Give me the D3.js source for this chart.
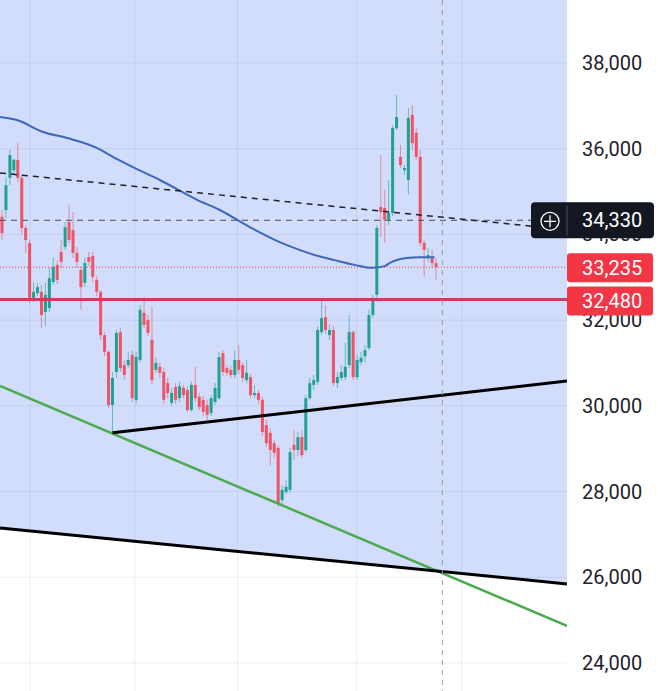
<!DOCTYPE html>
<html>
<head>
<meta charset="utf-8">
<script src="https://cdn.jsdelivr.net/npm/d3@7"></script>
<style>
	html, body { margin: 0; padding: 0; background: #ffffff; }
	svg { display: block; font-family: Roboto, "Noto Sans", sans-serif; }
</style>
</head>
<body>
<div id="chart"></div>
<script>
// candles (one per bar, left to right)
let opens = [
	34410, 34570, 35320, 35500, 35740, 35320, 34150, 33800, 32520, 32630,
	32660, 32190, 32280, 32890, 33290, 33590, 33710, 34290, 34100, 33570,
	33170, 32870, 33470, 33500, 32940, 32660, 31650, 31260, 30020, 30790,
	31720, 30950, 30950, 31190, 30140, 31070, 32170, 32000, 31540, 30840,
	30910, 30790, 30530, 30070, 30440, 30180, 30420, 30370, 29900, 30490,
	30210, 30140, 30020, 29830, 30090, 30180, 31230, 30880, 30840, 30720,
	31070, 30950, 30600, 30670, 30250, 30300, 30140, 29550, 29370, 29130,
	29020, 27800, 27990, 28040, 29090, 28970, 29270, 28970, 30180, 30490,
	30560, 31720, 32070, 31650, 31770, 30530, 30650, 30670, 30950, 31720,
	30670, 31020, 31160, 31350, 32120, 32590, 34640, 34620, 34340, 34500,
	36480, 35810, 35500, 35270, 36790, 36370, 35810, 33800, 33450, 33470,
	33330
];
let highs = [
	34570, 35320, 35970, 35780, 36130, 35390, 34220, 33870, 32890, 32870,
	32820, 32870, 33220, 33470, 33400, 33870, 34290, 34690, 34520, 33710,
	33260, 33450, 33590, 33590, 33030, 32700, 31720, 31300, 30790, 31770,
	31820, 31070, 31260, 31300, 31260, 32350, 32540, 32120, 32310, 31120,
	31020, 30880, 30650, 30420, 30530, 30560, 30490, 30460, 30560, 30910,
	30300, 30230, 30140, 30250, 30530, 31260, 31300, 30950, 30930, 31300,
	31420, 31020, 31070, 30740, 30490, 30370, 30210, 29670, 29480, 29200,
	29090, 28150, 28270, 29020, 29440, 29390, 29440, 30250, 30650, 30720,
	31860, 32470, 32350, 31890, 31860, 30790, 30950, 31470, 32120, 31770,
	31190, 31260, 31420, 32240, 32590, 34220, 35850, 35040, 35270, 36550,
	37250, 36090, 35620, 36950, 37020, 36480, 35970, 33870, 33680, 33640,
	33450
];
let lows = [
	33870, 34380, 35150, 35410, 35220, 33990, 33570, 32400, 32420, 32560,
	31820, 31860, 32190, 32820, 32840, 33220, 33640, 33800, 33450, 33220,
	32240, 32770, 33260, 32890, 32560, 31540, 31160, 29950, 29370, 30650,
	30790, 30600, 30880, 30090, 30040, 31020, 31820, 31630, 30510, 30770,
	30650, 30040, 30180, 30000, 30040, 30090, 30180, 29860, 29860, 30090,
	29900, 29760, 29620, 29760, 30020, 30140, 30700, 30700, 30650, 30650,
	30740, 30560, 30530, 30180, 30180, 30040, 29300, 29040, 28600, 28780,
	27640, 27690, 27940, 27970, 28740, 28830, 28780, 28920, 30140, 30370,
	30490, 31650, 31680, 31540, 30460, 30420, 30580, 30600, 30880, 30600,
	30600, 30950, 31020, 31300, 32050, 32470, 33940, 33800, 34220, 34430,
	36440, 35550, 35390, 34920, 35970, 35740, 33730, 33010, 33360, 33220,
	32940
];
let closes = [
	34030, 35150, 35850, 35740, 35320, 34150, 33870, 32520, 32660, 32770,
	32120, 32590, 32980, 33240, 32940, 33360, 34170, 33870, 33570, 33360,
	32770, 33330, 33360, 33010, 32660, 31650, 31260, 30020, 30650, 31700,
	30880, 30720, 31070, 30180, 31140, 32240, 31890, 31700, 30600, 31000,
	30770, 30140, 30300, 30300, 30140, 30460, 30250, 29900, 30490, 30180,
	29970, 29860, 29790, 30180, 30420, 31140, 30790, 30770, 30720, 31070,
	30840, 30650, 30770, 30250, 30300, 30140, 29390, 29130, 28970, 28900,
	27730, 28040, 28110, 28920, 28970, 29270, 28850, 30180, 30530, 30600,
	31770, 32050, 31770, 31770, 30530, 30670, 30790, 30910, 31720, 30670,
	31070, 31120, 31300, 32120, 32520, 34150, 34520, 34340, 34500, 36480,
	36740, 35620, 35550, 36720, 36130, 35810, 33800, 33640, 33520, 33330,
	33235
];

// moving average, points read at bar positions
let maIndex = [-0.5, 3.8, 10.4, 16.5, 24, 28.1, 33.2, 40, 49.6, 55.2, 62.8, 70.4, 74.2, 79.2, 84.3, 89.4, 93.7, 97, 98.2, 102.5, 105.8, 109.6];
let maValues = [36740, 36670, 36390, 36250, 36020, 35810, 35570, 35270, 34800, 34570, 34170, 33820, 33680, 33520, 33400, 33290, 33220, 33260, 33330, 33450, 33470, 33470];

// drawn lines: [bar index, price] pairs
let upperTrend = [[28, 29370], [143.2, 30581]];
let lowerTrend = [[-0.5, 27151], [143.2, 25845]];
let greenTrend = [[-0.5, 30464], [143.2, 24865]];
let dashedTrend = [[-0.5, 35434], [136.3, 34174]];

let priceTicks = [24000, 26000, 28000, 30000, 32000, 34000, 36000, 38000];
let timeGrid = [7.1, 33.7, 59.7, 89.9, 116.5];
let crosshairIndex = 111.6;
let crosshairPrice = 34330;
let lastPrice = 33235;
let levelPrice = 32480;

let width = 658, height = 691, plotRight = 567;
let fmt = d3.format(",");

let x = d3.scaleLinear().domain([0, opens.length - 1]).range([2, 436]);
let y = d3.scaleLinear().domain([24000, 38000]).range([663, 63]);

let svg = d3.select("#chart").append("svg")
	.attr("width", width)
	.attr("height", height);

svg.append("defs").append("clipPath").attr("id", "plot")
	.append("rect").attr("x", 0).attr("y", 0).attr("width", plotRight).attr("height", height);

let plot = svg.append("g").attr("clip-path", "url(#plot)");

// shaded zone above the lower trend line
let zone = [[0, 0], [plotRight, 0],
	[x(lowerTrend[1][0]), y(lowerTrend[1][1])],
	[x(lowerTrend[0][0]), y(lowerTrend[0][1])]];
plot.append("polygon")
	.attr("points", zone.map(d => d.join(",")).join(" "))
	.attr("fill", "#d1ddfb");

// grid
plot.selectAll(".hgrid").data(priceTicks).enter().append("line")
	.attr("x1", 0).attr("x2", plotRight)
	.attr("y1", d => y(d)).attr("y2", d => y(d))
	.attr("stroke", "rgba(42,46,90,0.07)");
plot.selectAll(".vgrid").data(timeGrid).enter().append("line")
	.attr("x1", d => x(d)).attr("x2", d => x(d))
	.attr("y1", 0).attr("y2", height)
	.attr("stroke", "rgba(42,46,90,0.07)");

// candles
let idx = d3.range(opens.length);
let up = "#22a08f", down = "#ef5466";
let candles = plot.append("g");
candles.selectAll(".wick").data(idx).enter().append("line")
	.attr("x1", i => x(i)).attr("x2", i => x(i))
	.attr("y1", i => y(highs[i])).attr("y2", i => y(lows[i]))
	.attr("stroke", i => closes[i] >= opens[i] ? up : down)
	.attr("stroke-opacity", 0.6)
	.attr("stroke-width", 1);
candles.selectAll(".body").data(idx).enter().append("rect")
	.attr("x", i => x(i) - 1.5)
	.attr("width", 3)
	.attr("y", i => y(Math.max(opens[i], closes[i])))
	.attr("height", i => Math.max(1, Math.abs(y(opens[i]) - y(closes[i]))))
	.attr("fill", i => closes[i] >= opens[i] ? up : down);

let seg = d3.line().x(d => x(d[0])).y(d => y(d[1]));

// crosshair
plot.append("line")
	.attr("x1", 0).attr("x2", plotRight)
	.attr("y1", y(crosshairPrice)).attr("y2", y(crosshairPrice))
	.attr("stroke", "#4a4f5e").attr("stroke-width", 1)
	.attr("stroke-dasharray", "6,5");

// price lines
plot.append("line")
	.attr("x1", 0).attr("x2", plotRight)
	.attr("y1", y(lastPrice)).attr("y2", y(lastPrice))
	.attr("stroke", "#f23645").attr("stroke-width", 1)
	.attr("stroke-dasharray", "1,2");
plot.append("line")
	.attr("x1", 0).attr("x2", plotRight)
	.attr("y1", y(levelPrice)).attr("y2", y(levelPrice))
	.attr("stroke", "#cc3d5c").attr("stroke-width", 3);

// moving average
plot.append("path")
	.datum(d3.zip(maIndex, maValues))
	.attr("d", d3.line().x(d => x(d[0])).y(d => y(d[1])).curve(d3.curveMonotoneX))
	.attr("fill", "none")
	.attr("stroke", "#3f66b9")
	.attr("stroke-width", 2);

// trend lines
plot.append("path").datum(dashedTrend).attr("d", seg)
	.attr("stroke", "#1e222d").attr("stroke-width", 1.5)
	.attr("stroke-dasharray", "6,5").attr("fill", "none");
plot.append("path").datum(greenTrend).attr("d", seg)
	.attr("stroke", "#4caa50").attr("stroke-width", 2.5).attr("fill", "none");
plot.append("path").datum(upperTrend).attr("d", seg)
	.attr("stroke", "#000000").attr("stroke-width", 3).attr("fill", "none");
plot.append("path").datum(lowerTrend).attr("d", seg)
	.attr("stroke", "#000000").attr("stroke-width", 3).attr("fill", "none");

// vertical crosshair
svg.append("line")
	.attr("x1", x(crosshairIndex)).attr("x2", x(crosshairIndex))
	.attr("y1", 0).attr("y2", height)
	.attr("stroke", "#9a9ca6").attr("stroke-width", 1)
	.attr("stroke-dasharray", "5,5");

// price scale
svg.selectAll(".tick").data(priceTicks).enter().append("text")
	.attr("x", 582)
	.attr("y", d => y(d))
	.attr("dy", "0.35em")
	.attr("font-size", 20)
	.attr("fill", "#1f222b")
	.text(d => fmt(d));

function priceBadge(price, fill, top, h) {
	svg.append("rect")
		.attr("x", plotRight).attr("y", top)
		.attr("width", 86).attr("height", h)
		.attr("rx", 3)
		.attr("fill", fill);
	svg.append("text")
		.attr("x", 582).attr("y", top + h / 2)
		.attr("dy", "0.35em")
		.attr("font-size", 20)
		.attr("fill", "#ffffff")
		.text(fmt(price));
}

// crosshair badge with the plus button
svg.append("rect")
	.attr("x", 531).attr("y", y(crosshairPrice) - 18)
	.attr("width", 123).attr("height", 36)
	.attr("rx", 4)
	.attr("fill", "#131722");
svg.append("line")
	.attr("x1", plotRight).attr("x2", plotRight)
	.attr("y1", y(crosshairPrice) - 15).attr("y2", y(crosshairPrice) + 15)
	.attr("stroke", "#4c505c");
svg.append("circle")
	.attr("cx", 550).attr("cy", y(crosshairPrice) + 1)
	.attr("r", 9)
	.attr("fill", "none").attr("stroke", "#ffffff").attr("stroke-width", 1.3);
svg.append("path")
	.attr("d", `M544,${y(crosshairPrice) + 1}h12M550,${y(crosshairPrice) - 5}v12`)
	.attr("stroke", "#ffffff").attr("stroke-width", 1.3);
svg.append("text")
	.attr("x", 582).attr("y", y(crosshairPrice))
	.attr("dy", "0.35em")
	.attr("font-size", 20)
	.attr("fill", "#ffffff")
	.text(fmt(crosshairPrice));

priceBadge(lastPrice, "#f23645", y(lastPrice) - 14, 29);
priceBadge(levelPrice, "#f23645", y(levelPrice) - 13, 29);
</script>
</body>
</html>
